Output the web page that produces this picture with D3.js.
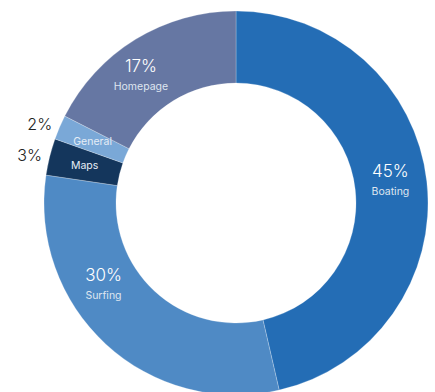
<!DOCTYPE html>
<html>
<head>
<meta charset="utf-8">
<script src="https://cdn.jsdelivr.net/npm/d3@7"></script>
<style>
  html, body { margin: 0; padding: 0; background: #fff; }
  svg { display: block; font-family: Inter, Roboto, 'Noto Sans', sans-serif; }
</style>
</head>
<body>
<svg id="chart"></svg>
<script>
const categories = ['Boating', 'Surfing', 'Maps', 'General', 'Homepage']
const values = [45, 30, 3, 2, 17]
const colors = ['#246db5', '#4f8ac5', '#14365c', '#7aa8d7', '#6677a3']

const w = 435
const h = 392
const cx = 236
const cy = 203
const outerR = 192
const innerR = 120

// slices smaller than this get their percent outside the ring
const smallLimit = 5
// angular / radial nudge applied to inner labels
const nudge = { Boating: [-0.03, 0], Surfing: [0.27, 0], Homepage: [-0.09, 3] }

const data = categories.map((c, i) => ({ name: c, value: values[i], color: colors[i] }))

const svg = d3.select('#chart').attr('width', w).attr('height', h)
const g = svg.append('g').attr('transform', `translate(${cx},${cy})`)

const pie = d3.pie().sort(null).value((d) => d.value)
const arc = d3.arc().innerRadius(innerR).outerRadius(outerR)
const arcs = pie(data)

g.selectAll('path')
  .data(arcs)
  .enter()
  .append('path')
  .attr('d', arc)
  .attr('fill', (d) => d.data.color)
  .attr('stroke', '#fff')
  .attr('stroke-opacity', 0.6)
  .attr('stroke-width', 0.4)

const midR = (innerR + outerR) / 2

function pos(d, r, extra) {
  const a = (d.startAngle + d.endAngle) / 2 + (extra || 0)
  return [Math.sin(a) * r, -Math.cos(a) * r]
}

const big = arcs.filter((d) => d.data.value >= smallLimit)
const small = arcs.filter((d) => d.data.value < smallLimit)

const bigLabels = g
  .selectAll('g.big')
  .data(big)
  .enter()
  .append('g')
  .attr('class', 'big')
  .attr('transform', (d) => {
    const n = nudge[d.data.name] || [0, 0]
    return `translate(${pos(d, midR + n[1], n[0])})`
  })

bigLabels
  .append('text')
  .attr('text-anchor', 'middle')
  .attr('y', -4)
  .attr('fill', '#fff')
  .style('font-size', '17px')
  .style('font-weight', 300)
  .text((d) => d.data.value + '%')

bigLabels
  .append('text')
  .attr('text-anchor', 'middle')
  .attr('y', 14)
  .attr('fill', '#dfe6f0')
  .style('font-size', '10.5px')
  .text((d) => d.data.name)

g.selectAll('text.sname')
  .data(small)
  .enter()
  .append('text')
  .attr('class', 'sname')
  .attr('text-anchor', 'middle')
  .attr('dominant-baseline', 'central')
  .attr('transform', (d) => `translate(${pos(d, midR)})`)
  .attr('fill', '#e6edf6')
  .style('font-size', '10.5px')
  .text((d) => d.data.name)

g.selectAll('text.spct')
  .data(small)
  .enter()
  .append('text')
  .attr('class', 'spct')
  .attr('text-anchor', 'end')
  .attr('dominant-baseline', 'central')
  .attr('transform', (d) => `translate(${pos(d, 200)})`)
  .attr('fill', '#222')
  .style('font-size', '16px')
  .style('font-weight', 300)
  .text((d) => d.data.value + '%')
</script>
</body>
</html>
